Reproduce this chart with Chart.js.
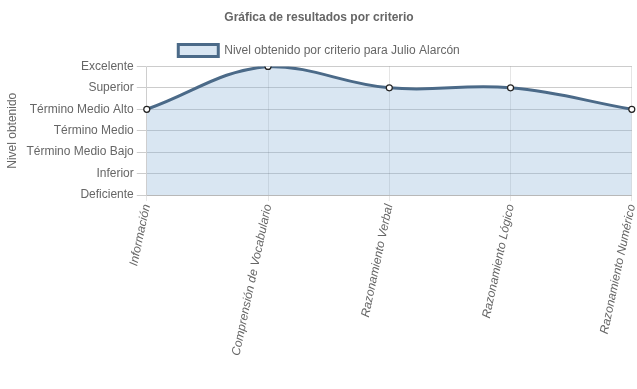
<!DOCTYPE html>
<html>
<head>
<meta charset="utf-8">
<script src="https://cdn.jsdelivr.net/npm/chart.js@4/dist/chart.umd.min.js"></script>
<style>
    html, body { margin: 0; padding: 0; background: #fff; }
    #wrap { width: 637px; height: 389px; }
</style>
</head>
<body>
<div id="wrap"><canvas id="resultadosChart"></canvas></div>
<script>
// Datos del gráfico
const niveles = ['Deficiente', 'Inferior', 'Término Medio Bajo', 'Término Medio', 'Término Medio Alto', 'Superior', 'Excelente'];
const criterios = ['Información', 'Comprensión de Vocabulario', 'Razonamiento Verbal', 'Razonamiento Lógico', 'Razonamiento Numérico'];
const resultados = ['Término Medio Alto', 'Excelente', 'Superior', 'Superior', 'Término Medio Alto'];

const etiquetaSerie = 'Nivel obtenido por criterio para Julio Alarcón';

Chart.defaults.font.family = '"Liberation Sans", Arial, Helvetica, sans-serif';
Chart.defaults.font.size = 12;
Chart.defaults.color = '#666';

const ctx = document.getElementById('resultadosChart').getContext('2d');

new Chart(ctx, {
    type: 'line',
    data: {
        labels: criterios,
        datasets: [{
            label: etiquetaSerie,
            data: resultados.map(r => niveles.indexOf(r)),
            borderColor: '#4b6a88',
            backgroundColor: 'rgba(128, 172, 212, 0.3)',
            borderWidth: 3,
            tension: 0.4,
            fill: true,
            pointRadius: 3,
            pointBorderWidth: 1.2,
            pointBackgroundColor: '#fff',
            pointBorderColor: '#222'
        }]
    },
    options: {
        responsive: true,
        maintainAspectRatio: false,
        animation: false,
        layout: {
            padding: { left: 1, right: 0, bottom: 30 }
        },
        plugins: {
            title: {
                display: true,
                text: 'Gráfica de resultados por criterio',
                font: { weight: 'bold', size: 12 },
                padding: { top: 10, bottom: 10 }
            },
            legend: {
                labels: {
                    boxWidth: 40,
                    boxHeight: 12
                }
            },
            tooltip: { enabled: false }
        },
        scales: {
            x: {
                // las etiquetas giradas no necesitan tanto margen a la derecha
                afterFit: function(scale) {
                    scale.paddingRight = 3;
                },
                grid: {
                    color: 'rgba(0, 0, 0, 0.1)',
                    tickLength: 6
                },
                ticks: {
                    minRotation: 78,
                    maxRotation: 78,
                    padding: 2,
                    font: { style: 'italic' }
                }
            },
            y: {
                min: 0,
                max: niveles.length - 1,
                grid: {
                    color: 'rgba(0, 0, 0, 0.2)',
                    tickLength: 10
                },
                ticks: {
                    stepSize: 1,
                    callback: function(value) {
                        return niveles[value];
                    }
                },
                title: {
                    display: true,
                    text: 'Nivel obtenido'
                }
            }
        }
    }
});
</script>
</body>
</html>
